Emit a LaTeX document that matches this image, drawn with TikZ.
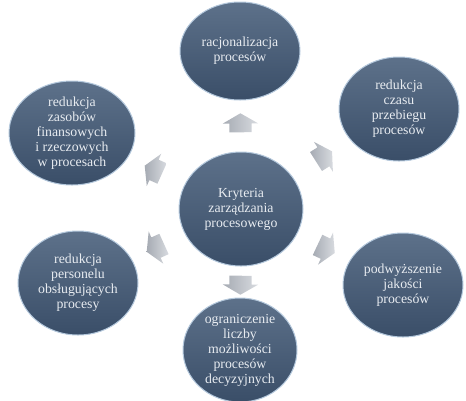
\documentclass[tikz,border=0pt]{standalone}
\usepackage{fontspec}
\setmainfont{Liberation Serif}
\usetikzlibrary{shapes.geometric,shapes.arrows}
\definecolor{bubbletop}{HTML}{5D718A}
\definecolor{bubblebot}{HTML}{3A4E68}
\definecolor{bubblerim}{HTML}{B4C8DC}
\definecolor{bubbletext}{HTML}{E8ECF1}
\definecolor{arrowlight}{HTML}{D8DBE0}
\definecolor{arrowdark}{HTML}{A6ABB3}
\begin{document}
\begin{tikzpicture}[x=1pt,y=-1pt,
		bubble/.style={ellipse, minimum width=120pt, minimum height=104pt, inner sep=0pt,
			align=center, top color=bubbletop, bottom color=bubblebot, draw=bubblerim,
			line width=1pt, text=bubbletext, font=\fontsize{13.8}{15}\selectfont},
		hub/.style={bubble, minimum width=124pt, minimum height=114pt},
		blockarrow/.style={single arrow, draw=none, left color=arrowdark, right color=arrowlight,
			text height=11pt, text depth=11pt, minimum height=19pt,
			single arrow head extend=6.5pt, single arrow tip angle=120, inner sep=0pt,
			sloped, allow upside down}]
	\useasboundingbox (0,0) rectangle (466,400);
	\node[hub] (crit) at (241,209) {Kryteria\\zarządzania\\procesowego};
	\node[bubble, minimum height=98pt] (top) at (240,51) {racjonalizacja\\procesów};
	\node[bubble] (tr) at (399,109) {redukcja\\czasu\\przebiegu\\procesów};
	\node[bubble] (br) at (403,285) {podwyższenie\\jakości\\procesów};
	\node[bubble, minimum width=114pt] (bot) at (240,350) {ograniczenie\\liczby\\możliwości\\procesów\\decyzyjnych};
	\node[bubble] (bl) at (78,283) {redukcja\\personelu\\obsługujących\\procesy};
	\node[bubble, minimum width=126pt] (tl) at (72,133) {redukcja\\zasobów\\finansowych\\i rzeczowych\\w procesach};
	\foreach \o in {top,tr,br,bot,bl,tl}
		\path (crit) -- node[blockarrow] {} (\o);
\end{tikzpicture}
\end{document}
